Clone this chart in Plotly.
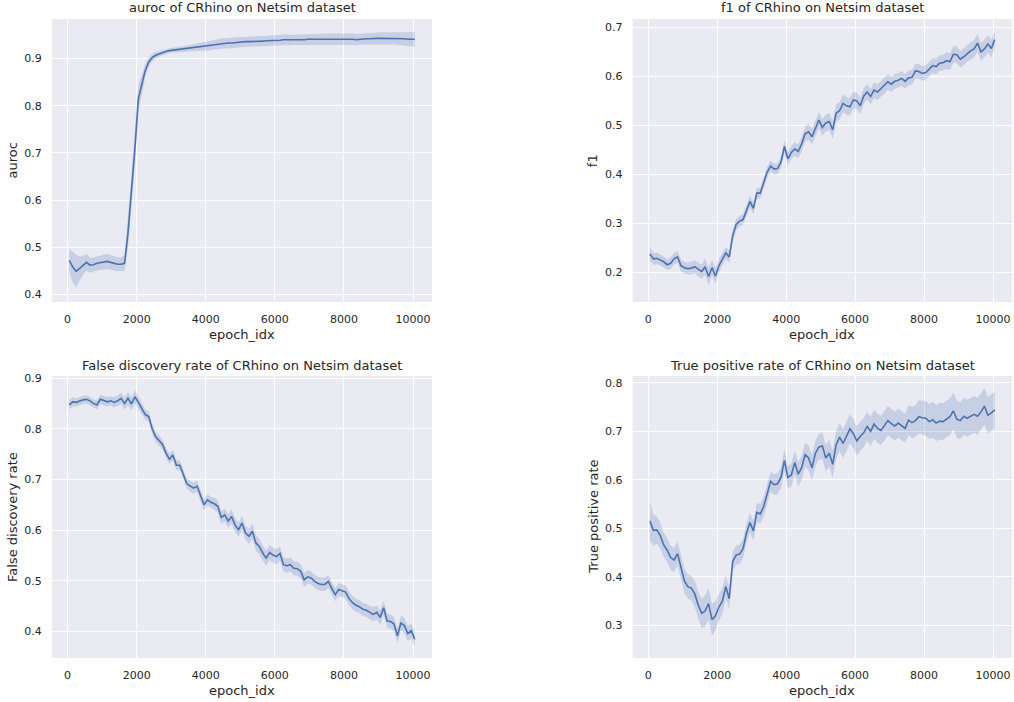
import numpy as np
import plotly.graph_objects as go

# ---------------- data ----------------
epoch_idx = list(range(50, 10051, 100))

auroc_mean = [0.472, 0.458, 0.449, 0.455, 0.462, 0.468, 0.462, 0.463, 0.466, 0.467,
              0.469, 0.470, 0.468, 0.466, 0.464, 0.464, 0.466, 0.530, 0.615, 0.710,
              0.815, 0.845, 0.875, 0.893, 0.902, 0.907, 0.910, 0.913, 0.915, 0.917,
              0.918, 0.919, 0.920, 0.920, 0.921, 0.922, 0.923, 0.924, 0.925, 0.926,
              0.927, 0.928, 0.930, 0.931, 0.932, 0.932, 0.933, 0.933, 0.934, 0.935,
              0.935, 0.936, 0.936, 0.936, 0.937, 0.937, 0.937, 0.938, 0.938, 0.938,
              0.939, 0.939, 0.940, 0.940, 0.939, 0.940, 0.940, 0.940, 0.940, 0.941,
              0.941, 0.941, 0.941, 0.941, 0.941, 0.941, 0.941, 0.942, 0.942, 0.942,
              0.941, 0.941, 0.941, 0.940, 0.941, 0.942, 0.942, 0.942, 0.943, 0.943,
              0.943, 0.943, 0.943, 0.943, 0.943, 0.942, 0.942, 0.942, 0.941, 0.941,
              0.941]
auroc_spread = [0.025, 0.033, 0.035, 0.026, 0.020, 0.018, 0.016, 0.015, 0.015, 0.015,
                0.016, 0.016, 0.015, 0.015, 0.015, 0.015, 0.016, 0.030, 0.040, 0.040,
                0.030, 0.020, 0.014, 0.010, 0.008, 0.007, 0.006, 0.006, 0.005, 0.005,
                0.005, 0.005, 0.006, 0.006, 0.006, 0.007, 0.007, 0.008, 0.009, 0.009,
                0.010, 0.010, 0.010, 0.011, 0.011, 0.011, 0.011, 0.011, 0.011, 0.011,
                0.011, 0.011, 0.011, 0.011, 0.011, 0.011, 0.011, 0.011, 0.011, 0.011,
                0.011, 0.011, 0.011, 0.011, 0.011, 0.011, 0.011, 0.011, 0.011, 0.011,
                0.011, 0.011, 0.011, 0.012, 0.012, 0.012, 0.012, 0.012, 0.012, 0.012,
                0.012, 0.012, 0.012, 0.012, 0.012, 0.012, 0.012, 0.012, 0.012, 0.012,
                0.013, 0.013, 0.013, 0.013, 0.013, 0.013, 0.014, 0.014, 0.015, 0.016,
                0.016]

f1_mean = [0.238, 0.228, 0.229, 0.226, 0.222, 0.216, 0.219, 0.228, 0.232, 0.214,
           0.210, 0.208, 0.209, 0.212, 0.206, 0.202, 0.212, 0.192, 0.210, 0.193,
           0.214, 0.226, 0.240, 0.232, 0.275, 0.298, 0.305, 0.308, 0.326, 0.345,
           0.331, 0.362, 0.362, 0.385, 0.405, 0.417, 0.411, 0.412, 0.425, 0.457,
           0.432, 0.445, 0.452, 0.447, 0.462, 0.483, 0.487, 0.477, 0.495, 0.511,
           0.496, 0.505, 0.508, 0.491, 0.525, 0.530, 0.545, 0.540, 0.538, 0.552,
           0.550, 0.540, 0.560, 0.568, 0.559, 0.572, 0.568, 0.575, 0.580, 0.589,
           0.584, 0.590, 0.592, 0.596, 0.590, 0.597, 0.598, 0.611, 0.610, 0.606,
           0.608, 0.616, 0.622, 0.620, 0.627, 0.628, 0.632, 0.630, 0.645, 0.644,
           0.635, 0.640, 0.647, 0.652, 0.656, 0.668, 0.650, 0.656, 0.666, 0.657,
           0.675]
f1_spread = [0.014, 0.012, 0.012, 0.011, 0.011, 0.011, 0.012, 0.012, 0.012, 0.012,
             0.012, 0.012, 0.013, 0.013, 0.014, 0.015, 0.016, 0.018, 0.016, 0.016,
             0.014, 0.013, 0.012, 0.012, 0.012, 0.011, 0.011, 0.011, 0.011, 0.012,
             0.012, 0.011, 0.011, 0.011, 0.011, 0.011, 0.011, 0.011, 0.012, 0.013,
             0.013, 0.013, 0.014, 0.014, 0.015, 0.015, 0.016, 0.016, 0.016, 0.017,
             0.017, 0.017, 0.018, 0.018, 0.018, 0.018, 0.018, 0.018, 0.018, 0.017,
             0.017, 0.017, 0.016, 0.016, 0.016, 0.016, 0.016, 0.016, 0.016, 0.016,
             0.016, 0.015, 0.015, 0.015, 0.015, 0.015, 0.015, 0.015, 0.015, 0.015,
             0.015, 0.015, 0.015, 0.016, 0.016, 0.016, 0.017, 0.017, 0.017, 0.017,
             0.017, 0.017, 0.017, 0.018, 0.018, 0.018, 0.018, 0.018, 0.018, 0.018,
             0.018]

fdr_mean = [0.847, 0.853, 0.852, 0.855, 0.857, 0.858, 0.855, 0.850, 0.847, 0.858,
            0.855, 0.853, 0.855, 0.852, 0.855, 0.860, 0.850, 0.860, 0.849, 0.863,
            0.852, 0.840, 0.828, 0.824, 0.800, 0.784, 0.776, 0.769, 0.752, 0.740,
            0.748, 0.728, 0.728, 0.709, 0.692, 0.687, 0.683, 0.687, 0.670, 0.650,
            0.660, 0.655, 0.652, 0.647, 0.625, 0.630, 0.618, 0.627, 0.610, 0.601,
            0.614, 0.595, 0.588, 0.598, 0.575, 0.568, 0.555, 0.545, 0.556, 0.551,
            0.548, 0.554, 0.532, 0.530, 0.532, 0.525, 0.524, 0.519, 0.502, 0.508,
            0.506, 0.499, 0.495, 0.493, 0.493, 0.499, 0.485, 0.473, 0.483, 0.481,
            0.478, 0.465, 0.457, 0.452, 0.449, 0.444, 0.442, 0.438, 0.434, 0.438,
            0.428, 0.447, 0.421, 0.420, 0.415, 0.392, 0.417, 0.412, 0.396, 0.402,
            0.385]
fdr_spread = [0.009, 0.009, 0.008, 0.008, 0.008, 0.008, 0.008, 0.008, 0.009, 0.009,
              0.009, 0.009, 0.009, 0.010, 0.010, 0.011, 0.012, 0.013, 0.013, 0.013,
              0.012, 0.011, 0.010, 0.010, 0.010, 0.010, 0.010, 0.010, 0.010, 0.010,
              0.010, 0.010, 0.010, 0.010, 0.010, 0.011, 0.011, 0.011, 0.011, 0.011,
              0.011, 0.011, 0.012, 0.012, 0.013, 0.013, 0.013, 0.014, 0.014, 0.014,
              0.014, 0.014, 0.015, 0.015, 0.015, 0.015, 0.015, 0.015, 0.015, 0.015,
              0.015, 0.014, 0.014, 0.014, 0.014, 0.014, 0.014, 0.014, 0.014, 0.013,
              0.013, 0.013, 0.013, 0.013, 0.013, 0.013, 0.013, 0.013, 0.013, 0.013,
              0.013, 0.013, 0.013, 0.013, 0.013, 0.013, 0.013, 0.013, 0.014, 0.014,
              0.014, 0.014, 0.014, 0.014, 0.014, 0.014, 0.015, 0.015, 0.015, 0.015,
              0.015]

tpr_mean = [0.515, 0.496, 0.497, 0.485, 0.466, 0.455, 0.440, 0.435, 0.448, 0.420,
            0.392, 0.380, 0.377, 0.365, 0.342, 0.325, 0.330, 0.345, 0.312, 0.320,
            0.338, 0.350, 0.380, 0.355, 0.432, 0.445, 0.447, 0.458, 0.490, 0.512,
            0.495, 0.533, 0.530, 0.545, 0.570, 0.597, 0.590, 0.592, 0.605, 0.640,
            0.605, 0.610, 0.636, 0.612, 0.625, 0.652, 0.645, 0.625, 0.655, 0.668,
            0.670, 0.645, 0.655, 0.632, 0.672, 0.688, 0.675, 0.690, 0.705, 0.695,
            0.680, 0.690, 0.697, 0.710, 0.700, 0.715, 0.706, 0.702, 0.711, 0.722,
            0.716, 0.711, 0.717, 0.712, 0.706, 0.723, 0.718, 0.722, 0.730, 0.728,
            0.727, 0.720, 0.724, 0.717, 0.721, 0.720, 0.726, 0.730, 0.742, 0.725,
            0.722, 0.731, 0.727, 0.731, 0.735, 0.731, 0.740, 0.752, 0.733, 0.738,
            0.744]
tpr_spread = [0.040, 0.032, 0.028, 0.026, 0.025, 0.025, 0.025, 0.025, 0.025, 0.025,
              0.025, 0.025, 0.025, 0.027, 0.028, 0.030, 0.032, 0.033, 0.033, 0.030,
              0.028, 0.026, 0.024, 0.022, 0.020, 0.020, 0.020, 0.020, 0.020, 0.020,
              0.020, 0.020, 0.020, 0.020, 0.020, 0.021, 0.021, 0.022, 0.022, 0.023,
              0.023, 0.024, 0.024, 0.025, 0.025, 0.025, 0.026, 0.026, 0.026, 0.027,
              0.027, 0.027, 0.028, 0.028, 0.029, 0.029, 0.030, 0.030, 0.030, 0.030,
              0.030, 0.030, 0.030, 0.030, 0.030, 0.030, 0.030, 0.030, 0.030, 0.030,
              0.030, 0.030, 0.030, 0.030, 0.030, 0.031, 0.032, 0.033, 0.034, 0.035,
              0.036, 0.036, 0.037, 0.037, 0.038, 0.038, 0.038, 0.038, 0.038, 0.038,
              0.038, 0.038, 0.038, 0.038, 0.038, 0.038, 0.038, 0.038, 0.038, 0.038,
              0.038]

x_ticks = [0, 2000, 4000, 6000, 8000, 10000]
auroc_ticks = [0.4, 0.5, 0.6, 0.7, 0.8, 0.9]
f1_ticks = [0.2, 0.3, 0.4, 0.5, 0.6, 0.7]
fdr_ticks = [0.4, 0.5, 0.6, 0.7, 0.8, 0.9]
tpr_ticks = [0.3, 0.4, 0.5, 0.6, 0.7, 0.8]

titles = ["auroc of CRhino on Netsim dataset", "f1 of CRhino on Netsim dataset",
          "False discovery rate of CRhino on Netsim dataset",
          "True positive rate of CRhino on Netsim dataset"]
y_labels = ["auroc", "f1", "False discovery rate", "True positive rate"]
x_label = "epoch_idx"

# ---------------- styling / layout ----------------
W, H = 1014, 702
ML, MR, MT, MB = 52, 2, 19, 44
PW, PH = W - ML - MR, H - MT - MB
FONT = "DejaVu Sans, Liberation Sans, sans-serif"
TXT = "#262626"
BG = "#EAEAF2"
LINE = "#4C72B0"
BAND = "rgba(76,114,176,0.22)"


def px_x(p):
    return (p - ML) / PW


def px_y(p):
    return (H - MB - p) / PH


# pixel boxes of each panel: (left, right, top, bottom)
boxes = [(52, 432, 19, 302), (632.7, 1012, 19, 302),
         (52, 432, 376, 658), (632.7, 1012, 376, 658)]
y_ranges = [[0.384, 0.984], [0.140, 0.717], [0.348, 0.904], [0.233, 0.814]]
y_tickvals = [auroc_ticks, f1_ticks, fdr_ticks, tpr_ticks]
series = [(auroc_mean, auroc_spread), (f1_mean, f1_spread),
          (fdr_mean, fdr_spread), (tpr_mean, tpr_spread)]

fig = go.Figure()
x = np.array(epoch_idx, dtype=float)
annotations = []
layout_axes = {}

for i, ((mean, spread), box) in enumerate(zip(series, boxes)):
    k = "" if i == 0 else str(i + 1)
    xa, ya = "x" + k, "y" + k
    m = np.array(mean)
    s = np.array(spread)
    upper = m + s
    lower = m - s
    fig.add_trace(go.Scatter(
        x=np.concatenate([x, x[::-1]]), y=np.concatenate([upper, lower[::-1]]),
        fill="toself", fillcolor=BAND, line=dict(width=0), mode="lines",
        hoverinfo="skip", showlegend=False, xaxis=xa, yaxis=ya))
    fig.add_trace(go.Scatter(
        x=x, y=m, mode="lines", line=dict(color=LINE, width=1.6),
        showlegend=False, xaxis=xa, yaxis=ya))

    l, r, t, b = box
    common = dict(showgrid=True, gridcolor="white", gridwidth=1.2, zeroline=False,
                  showline=False, ticks="outside", ticklen=7,
                  tickcolor="rgba(0,0,0,0)",
                  tickfont=dict(family=FONT, size=11, color=TXT))
    layout_axes["xaxis" + k] = dict(domain=[px_x(l), px_x(r)], anchor=ya,
                                    range=[-450, 10550], tickvals=x_ticks,
                                    ticktext=[str(v) for v in x_ticks], **common)
    yt = y_tickvals[i]
    layout_axes["yaxis" + k] = dict(domain=[px_y(b), px_y(t)], anchor=xa,
                                    range=y_ranges[i], tickvals=yt,
                                    ticktext=["%.1f" % v for v in yt], **common)

    cx = (l + r) / 2
    # title
    annotations.append(dict(text=titles[i], x=px_x(cx), y=px_y(t - 11),
                            xref="paper", yref="paper", showarrow=False,
                            xanchor="center", yanchor="middle",
                            font=dict(family=FONT, size=13, color=TXT)))
    # x label
    annotations.append(dict(text=x_label, x=px_x(cx), y=px_y(b + 32),
                            xref="paper", yref="paper", showarrow=False,
                            xanchor="center", yanchor="middle",
                            font=dict(family=FONT, size=13, color=TXT)))
    # y label
    annotations.append(dict(text=y_labels[i], x=px_x(l - 40), y=px_y((t + b) / 2),
                            xref="paper", yref="paper", showarrow=False,
                            xanchor="center", yanchor="middle", textangle=-90,
                            font=dict(family=FONT, size=13, color=TXT)))

fig.update_layout(
    width=W, height=H,
    margin=dict(l=ML, r=MR, t=MT, b=MB, autoexpand=False),
    paper_bgcolor="white", plot_bgcolor=BG,
    font=dict(family=FONT, color=TXT),
    showlegend=False,
    annotations=annotations,
    **layout_axes,
)

fig.write_html("out.html")
